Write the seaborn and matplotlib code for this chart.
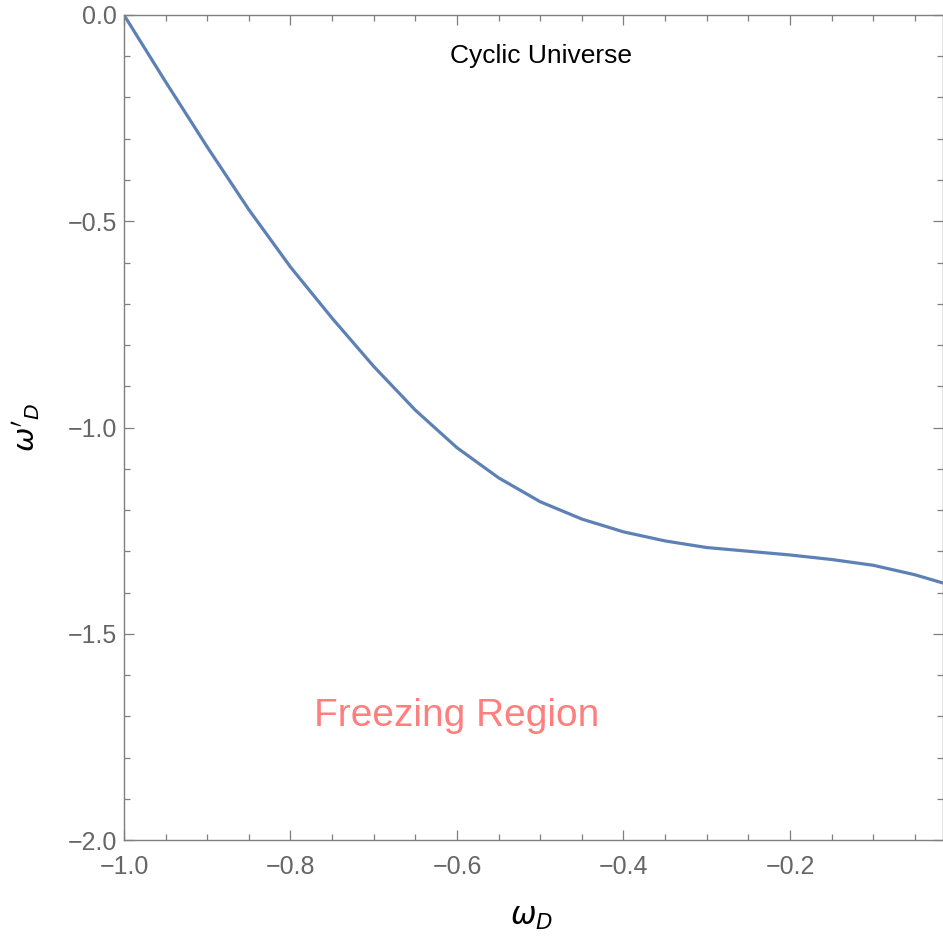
import numpy as np
import pandas as pd
import matplotlib
matplotlib.use("Agg")
import matplotlib.pyplot as plt
from matplotlib.ticker import MultipleLocator, FuncFormatter
import seaborn as sns

# Data
omega_D = [-1.00, -0.95, -0.90, -0.85, -0.80, -0.75, -0.70, -0.65, -0.60,
           -0.55, -0.50, -0.45, -0.40, -0.35, -0.30, -0.25, -0.20, -0.15,
           -0.10, -0.05, -0.0162]
omega_D_prime = [0.000, -0.162, -0.320, -0.472, -0.611, -0.735, -0.852, -0.958,
                 -1.049, -1.122, -1.180, -1.222, -1.253, -1.275, -1.291, -1.300,
                 -1.309, -1.320, -1.334, -1.357, -1.377]

annotations = ["Cyclic Universe", "Freezing Region"]

df = pd.DataFrame({"w": omega_D, "wp": omega_D_prime})

sns.set_theme(style="ticks")
plt.rcParams["font.family"] = ["Liberation Sans", "DejaVu Sans"]
plt.rcParams["mathtext.fontset"] = "dejavusans"

fig = plt.figure(figsize=(9.43, 9.40), dpi=100)
ax = fig.add_axes([124/943, 1 - 840/940, 819/943, 825/940])

sns.lineplot(data=df, x="w", y="wp", ax=ax, sort=False, color="#5E81B5",
             linewidth=2.3, estimator=None)
for ln in ax.get_lines():
    ln.set_solid_joinstyle("round")
    ln.set_solid_capstyle("round")

ax.set_xlim(-1.0, -0.0162)
ax.set_ylim(-2.0, 0.0)

ax.xaxis.set_major_locator(MultipleLocator(0.2))
ax.xaxis.set_minor_locator(MultipleLocator(0.05))
ax.yaxis.set_major_locator(MultipleLocator(0.5))
ax.yaxis.set_minor_locator(MultipleLocator(0.1))

gray = "#7f7f7f"
for s in ax.spines.values():
    s.set_visible(True)
    s.set_color(gray)
    s.set_linewidth(1.0)

ax.tick_params(which="both", direction="in", top=True, right=True, color=gray,
               width=0.9, labelcolor="#666666", labelsize=18)
ax.tick_params(which="major", length=7.2)
ax.tick_params(which="minor", length=4.0)
ax.tick_params(axis="x", which="major", pad=11)
ax.tick_params(axis="y", which="major", pad=5)

def fmt(v, pos):
    return f"{v:.1f}".replace("-", "\u2212")
ax.xaxis.set_major_formatter(FuncFormatter(fmt))
ax.yaxis.set_major_formatter(FuncFormatter(fmt))

ax.set_xlabel(r"$\omega_D$", fontsize=22, color="black")
ax.set_ylabel(r"$\omega'_D$", fontsize=21, color="black")
ax.xaxis.set_label_coords(0.497, -0.075)
ax.yaxis.set_label_coords(-0.10, 0.5)

ax.text(-0.499, -0.116, annotations[0], fontsize=19, color="black",
        ha="center", va="baseline")
ax.text(-0.601, -1.723, annotations[1], fontsize=28, color="#FF7F7F",
        ha="center", va="baseline")

fig.savefig("out.png", dpi=100)
